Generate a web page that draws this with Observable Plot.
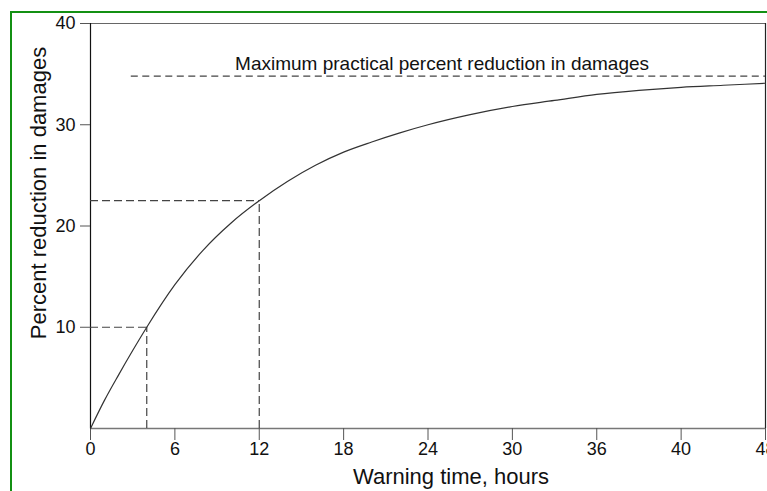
<!DOCTYPE html>
<html><head><meta charset="utf-8">
<script src="https://cdn.jsdelivr.net/npm/d3@7"></script>
<script src="https://cdn.jsdelivr.net/npm/@observablehq/plot@0.6"></script>
<style>
html,body{margin:0;padding:0;background:#fff;overflow:hidden;width:767px;height:491px;}
#frame{position:absolute;left:10px;top:11px;width:900px;height:600px;border-left:2px solid #139013;border-top:2px solid #139013;}
#chart{position:absolute;left:0;top:0;}
svg{font-family:"Liberation Sans",Arial,sans-serif;}
</style></head>
<body>
<div id="frame"></div>
<div id="chart"></div>
<script>
// Curve: warning time (hours) vs percent reduction in damages
const hours =   [0, 1,   2,   3,   4,  6,    8,    10,   12,   14,   16, 18,   20,   22,   24, 27, 30,   33,   36, 39,   42,   45,   48];
const percent = [0, 2.8, 5.3, 7.7, 10, 14.2, 17.6, 20.3, 22.5, 24.4, 26, 27.3, 28.3, 29.2, 30, 31, 31.8, 32.4, 33, 33.4, 33.7, 33.9, 34.1];
// Reference guides
const guideX = [4, 12];
const guideY = [10, 22.5];
const maxPractical = 34.8;
const maxLineStart = 2.9;
const maxLabel = "Maximum practical percent reduction in damages";
// Axes
const xTickValues = [0, 6, 12, 18, 24, 30, 36, 42, 48];
const xTickLabels = ["0", "6", "12", "18", "24", "30", "36", "40", "48"];
const yTickValues = [10, 20, 30, 40];
const yTickLabels = ["10", "20", "30", "40"];
const xLabel = "Warning time, hours";
const yLabel = "Percent reduction in damages";

const curve = hours.map((h, i) => ({h, p: percent[i]}));
const guides = guideX.map((x, i) => ({x, y: guideY[i]}));

const chart = Plot.plot({
  width: 767, height: 491,
  marginLeft: 90, marginRight: 2, marginTop: 23, marginBottom: 63,
  style: {fontFamily: '"Liberation Sans", Arial, sans-serif', fontSize: "18px", color: "#111", background: "transparent"},
  x: {domain: [0, 48]},
  y: {domain: [0, 40]},
  marks: [
    Plot.ruleY([40], {stroke: "#666", strokeWidth: 1.2, x1: 0, x2: 48}),
    Plot.ruleY([0], {stroke: "#777", strokeWidth: 1.5}),
    Plot.ruleX([0], {stroke: "#111", strokeWidth: 1.2}),
    Plot.ruleX([48], {stroke: "#222", strokeWidth: 1.2}),
    Plot.axisX({ticks: xTickValues, tickFormat: () => "", tickSize: 12, stroke: "#555", label: null}),
    Plot.axisY({ticks: yTickValues, tickFormat: () => "", tickSize: 10, stroke: "#555", label: null}),
    Plot.text(xTickValues, {x: (d) => d, text: (d, i) => xTickLabels[i], frameAnchor: "bottom", lineAnchor: "top", dy: 14, fontSize: 18, fill: "#111"}),
    Plot.text(yTickValues, {y: (d) => d, text: (d, i) => yTickLabels[i], frameAnchor: "left", textAnchor: "end", lineAnchor: "middle", dx: -15, fontSize: 18, fill: "#111"}),
    Plot.text([xLabel], {frameAnchor: "bottom", lineAnchor: "middle", dx: 23, dy: 48, fontSize: 22, fill: "#111"}),
    Plot.text([yLabel], {frameAnchor: "left", textAnchor: "middle", lineAnchor: "middle", rotate: -90, dx: -52, dy: -33, fontSize: 22, fill: "#111"}),
    // guide dashed lines
    Plot.ruleY(guides, {y: "y", x1: 0, x2: "x", stroke: "#444", strokeWidth: 1.2, strokeDasharray: "8,4"}),
    Plot.ruleX(guides, {x: "x", y1: 0, y2: "y", stroke: "#444", strokeWidth: 1.2, strokeDasharray: "8,4"}),
    Plot.ruleY([maxPractical], {x1: maxLineStart, x2: 48, stroke: "#444", strokeWidth: 1.2, strokeDasharray: "7,4.5"}),
    Plot.text([maxLabel], {x: 25, y: maxPractical, lineAnchor: "middle", dy: -12, fontSize: 19, fill: "#111"}),
    Plot.line(curve, {x: "h", y: "p", curve: "monotone-x", stroke: "#333", strokeWidth: 1.2})
  ]
});
document.getElementById("chart").appendChild(chart);
</script>
</body></html>
